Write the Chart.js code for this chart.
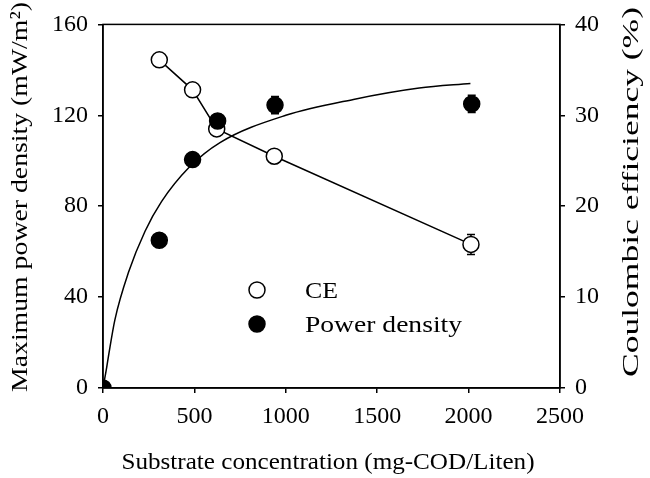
<!DOCTYPE html>
<html>
<head>
<meta charset="utf-8">
<script src="https://cdn.jsdelivr.net/npm/chart.js@4.4.0/dist/chart.umd.min.js"></script>
<style>
  html, body { margin: 0; padding: 0; background: #fff; }
  #wrap { width: 650px; height: 478px; }
</style>
</head>
<body>
<div id="wrap"><canvas id="chart"></canvas></div>
<script>
// substrate concentration (mg-COD/L)
const ceConc = [308, 490, 622, 937, 2013];
const ceValues = [36.1, 32.8, 28.5, 25.5, 15.8];
const ceErr = [0.4, 0.4, 0.6, 0.5, 1.1];

const pdConc = [0, 308, 490, 627, 941, 2017];
const pdValues = [0, 65, 100.5, 117.5, 124.5, 125];
const pdErr = [0, 1, 2, 3, 3.8, 3.8];

// fitted curve
const fitConc = [0, 20, 30, 65, 140, 230, 320, 470, 640, 1000, 1370, 1730, 2010];
const fitValues = [0, 9, 14, 30, 51, 69, 82, 97, 108, 120, 127, 132, 134];

const xTicks = [0, 500, 1000, 1500, 2000, 2500];
const xTitle = 'Substrate concentration (mg-COD/Liten)';
const yTitle = 'Maximum power density (mW/m²)';
const y2Title = 'Coulombic efficiency (%)';

const FONT = 'Liberation Serif, Times New Roman, serif';

function pts(xs, ys) {
  return xs.map((x, i) => ({ x: x, y: ys[i] }));
}

// 글자를 지정한 폭에 맞춰 늘려 그리기
function drawText(ctx, text, x, y, o) {
  ctx.save();
  ctx.font = (o.size || 24) + 'px ' + FONT;
  ctx.fillStyle = '#000';
  ctx.textAlign = o.align || 'left';
  ctx.textBaseline = o.baseline || 'alphabetic';
  ctx.translate(x, y);
  if (o.rot) ctx.rotate(o.rot);
  const w = ctx.measureText(text).width;
  const sx = o.width ? o.width / w : 1;
  ctx.scale(sx, 1);
  ctx.fillText(text, 0, 0);
  ctx.restore();
}

// 오차막대 (마커 아래)
const errorBars = {
  id: 'errorBars',
  beforeDatasetsDraw(chart) {
    const ctx = chart.ctx;
    const xs = chart.scales.x;
    function bars(conc, vals, errs, scale) {
      ctx.save();
      ctx.strokeStyle = '#000';
      ctx.lineWidth = 1.5;
      conc.forEach((c, i) => {
        if (!errs[i]) return;
        const px = xs.getPixelForValue(c);
        const hi = scale.getPixelForValue(vals[i] + errs[i]);
        const lo = scale.getPixelForValue(vals[i] - errs[i]);
        ctx.beginPath();
        ctx.moveTo(px, hi); ctx.lineTo(px, lo);
        ctx.moveTo(px - 4, hi); ctx.lineTo(px + 4, hi);
        ctx.moveTo(px - 4, lo); ctx.lineTo(px + 4, lo);
        ctx.stroke();
      });
      ctx.restore();
    }
    bars(pdConc, pdValues, pdErr, chart.scales.y);
    bars(ceConc, ceValues, ceErr, chart.scales.y2);
  }
};

// 테두리, 축 제목, 범례
const extras = {
  id: 'extras',
  afterDatasetsDraw(chart) {
    const ctx = chart.ctx;
    const area = chart.chartArea;

    ctx.save();
    ctx.strokeStyle = '#000';
    ctx.lineWidth = 1.5;
    ctx.strokeRect(area.left, area.top, area.right - area.left, area.bottom - area.top);
    ctx.restore();

    drawText(ctx, xTitle, 328, 469, { align: 'center', width: 413 });
    drawText(ctx, yTitle, 21, 197, { align: 'center', baseline: 'middle', rot: -Math.PI / 2, width: 390 });
    drawText(ctx, y2Title, 632, 192, { align: 'center', baseline: 'middle', rot: -Math.PI / 2, width: 370 });

    // legend
    const items = [
      { label: chart.data.datasets[1].label, fill: '#fff', y: 290, w: 33 },
      { label: chart.data.datasets[0].label, fill: '#000', y: 324, w: 157 }
    ];
    items.forEach((it) => {
      ctx.save();
      ctx.beginPath();
      ctx.arc(257, it.y, 8, 0, Math.PI * 2);
      ctx.fillStyle = it.fill;
      ctx.fill();
      ctx.lineWidth = 1.5;
      ctx.strokeStyle = '#000';
      ctx.stroke();
      ctx.restore();
      drawText(ctx, it.label, 305, it.y + 8, { width: it.w });
    });
  }
};

const tickFont = { family: FONT, size: 24 };
const gridOpts = { drawOnChartArea: false, tickLength: 5, color: '#000', lineWidth: 1.5 };
const borderOpts = { color: '#000', width: 1.5 };

new Chart(document.getElementById('chart'), {
  type: 'scatter',
  data: {
    datasets: [
      {
        label: 'Power density',
        data: pts(pdConc, pdValues),
        yAxisID: 'y',
        showLine: false,
        pointRadius: 8,
        pointBackgroundColor: '#000',
        pointBorderColor: '#000',
        pointBorderWidth: 1.5,
        order: 0
      },
      {
        label: 'CE',
        data: pts(ceConc, ceValues),
        yAxisID: 'y2',
        showLine: true,
        borderColor: '#000',
        borderWidth: 1.5,
        pointRadius: 8,
        pointBackgroundColor: '#fff',
        pointBorderColor: '#000',
        pointBorderWidth: 1.5,
        order: 1
      },
      {
        label: 'fit',
        data: pts(fitConc, fitValues),
        yAxisID: 'y',
        showLine: true,
        borderColor: '#000',
        borderWidth: 1.5,
        pointRadius: 0,
        cubicInterpolationMode: 'monotone',
        order: 2
      }
    ]
  },
  options: {
    responsive: true,
    maintainAspectRatio: false,
    animation: false,
    layout: { padding: { top: 12, left: 0, right: 0, bottom: 0 } },
    plugins: {
      legend: { display: false },
      tooltip: { enabled: false }
    },
    scales: {
      x: {
        type: 'linear',
        min: 0,
        max: 2500,
        afterBuildTicks: (s) => { s.ticks = xTicks.map((v) => ({ value: v })); },
        afterFit: (s) => { s.height = 90; },
        ticks: { font: tickFont, color: '#000', padding: 9, callback: (v) => String(v) },
        grid: gridOpts,
        border: borderOpts
      },
      y: {
        position: 'left',
        min: 0,
        max: 160,
        ticks: { stepSize: 40, font: tickFont, color: '#000', padding: 10, callback: (v) => String(v) },
        afterFit: (s) => { s.width = 103; },
        grid: gridOpts,
        border: borderOpts
      },
      y2: {
        position: 'right',
        min: 0,
        max: 40,
        ticks: { stepSize: 10, font: tickFont, color: '#000', padding: 10, callback: (v) => String(v) },
        afterFit: (s) => { s.width = 90; },
        grid: gridOpts,
        border: borderOpts
      }
    }
  },
  plugins: [errorBars, extras]
});
</script>
</body>
</html>
